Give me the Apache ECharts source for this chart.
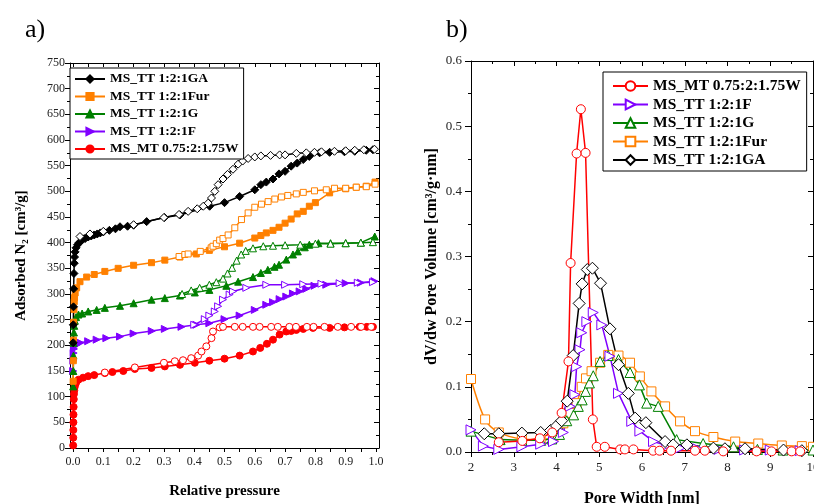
<!DOCTYPE html>
<html>
<head>
<meta charset="utf-8">
<script src="https://cdn.jsdelivr.net/npm/echarts@6/dist/echarts.min.js"></script>
<style>
  html, body { margin: 0; padding: 0; background: #fff; }
  #chart { width: 814px; height: 504px; }
</style>
</head>
<body>
<div id="chart"></div>
<script>
// ---- a) N2 isotherms: [relative pressure, adsorbed volume] ----
const gaAds = [[0.0005,205],[0.001,240],[0.0015,275],[0.002,310],[0.003,340],[0.004,360],[0.005,372],[0.007,382],[0.01,390],[0.015,396],[0.02,400],[0.03,405],[0.04,408],[0.05,411],[0.06,413],[0.07,415],[0.08,417],[0.09,419],[0.1,421],[0.12,424],[0.14,427],[0.155,431],[0.18,432],[0.2,434],[0.243,441],[0.302,449],[0.353,454],[0.451,471],[0.5,478],[0.55,490],[0.6,503],[0.62,513],[0.638,518],[0.66,524],[0.68,534],[0.7,539],[0.72,549],[0.74,555],[0.76,562],[0.78,568],[0.814,575],[0.847,576],[0.896,577],[0.93,578],[0.968,580],[0.99,581]];
const gaDes = [[0.023,412],[0.056,417],[0.1,422],[0.2,435],[0.3,449],[0.35,455],[0.38,461],[0.41,466],[0.43,471],[0.446,477],[0.457,487],[0.468,500],[0.479,513],[0.495,524],[0.51,533],[0.528,543],[0.545,553],[0.56,559],[0.578,564],[0.6,567],[0.62,569],[0.652,570],[0.682,571],[0.7,571],[0.737,574],[0.77,575],[0.797,576],[0.82,577],[0.863,578],[0.9,579],[0.93,580],[0.96,581],[0.995,582]];
const furAds = [[0.0005,130],[0.001,170],[0.0015,210],[0.002,245],[0.003,270],[0.004,285],[0.005,293],[0.007,302],[0.012,312],[0.023,324],[0.045,333],[0.07,338],[0.105,344],[0.149,350],[0.2,356],[0.259,361],[0.303,366],[0.353,372],[0.407,378],[0.45,385],[0.5,392],[0.55,399],[0.6,409],[0.62,414],[0.638,419],[0.66,424],[0.68,430],[0.7,438],[0.72,446],[0.74,456],[0.76,461],[0.78,471],[0.8,478],[0.847,497],[0.9,505],[0.935,508],[0.968,510],[0.997,518]];
const furDes = [[0.35,373],[0.369,377],[0.38,378],[0.42,383],[0.456,390],[0.462,393],[0.473,398],[0.484,405],[0.495,408],[0.512,415],[0.534,429],[0.556,445],[0.578,458],[0.6,469],[0.622,475],[0.644,480],[0.666,485],[0.688,489],[0.709,492],[0.737,495],[0.76,498],[0.797,501],[0.836,503],[0.863,506],[0.9,506],[0.935,508],[0.968,509],[0.997,514]];
const gAds = [[0.0005,120],[0.001,150],[0.0015,180],[0.002,205],[0.003,225],[0.004,238],[0.006,248],[0.01,255],[0.018,260],[0.03,262],[0.05,266],[0.078,269],[0.105,273],[0.155,277],[0.2,282],[0.259,289],[0.303,292],[0.353,297],[0.402,303],[0.45,308],[0.506,316],[0.545,324],[0.594,333],[0.62,341],[0.643,347],[0.665,353],[0.68,357],[0.704,367],[0.726,377],[0.742,383],[0.765,391],[0.78,396],[0.81,399],[0.85,399],[0.9,399],[0.95,400],[0.996,412]];
const gDes = [[0.36,300],[0.39,307],[0.418,312],[0.45,318],[0.473,323],[0.495,330],[0.51,340],[0.525,351],[0.54,365],[0.555,377],[0.57,384],[0.594,389],[0.628,393],[0.66,394],[0.7,395],[0.75,396],[0.8,398],[0.85,398],[0.9,399],[0.95,400],[0.99,401]];
const fAds = [[0.0005,150],[0.001,170],[0.002,185],[0.003,193],[0.005,198],[0.012,201],[0.025,205],[0.05,208],[0.078,211],[0.11,214],[0.155,217],[0.2,223],[0.26,228],[0.303,232],[0.358,236],[0.407,240],[0.45,243],[0.5,251],[0.55,258],[0.6,269],[0.638,279],[0.66,284],[0.682,290],[0.704,295],[0.726,301],[0.748,305],[0.77,310],[0.797,316],[0.836,318],[0.9,321],[0.95,322],[0.995,325]];
const fDes = [[0.4,240],[0.435,251],[0.45,258],[0.468,266],[0.479,276],[0.495,289],[0.517,299],[0.528,305],[0.572,312],[0.638,318],[0.7,318],[0.76,319],[0.82,320],[0.88,321],[0.94,322],[0.99,323]];
const wAds = [[0.0005,5],[0.0008,20],[0.001,35],[0.0012,50],[0.0015,65],[0.002,80],[0.0025,95],[0.003,105],[0.004,112],[0.005,118],[0.007,123],[0.01,127],[0.018,133],[0.033,137],[0.05,140],[0.07,142],[0.105,146],[0.13,148],[0.166,150],[0.204,154],[0.259,156],[0.303,159],[0.353,162],[0.402,166],[0.45,170],[0.5,174],[0.55,180],[0.594,188],[0.618,195],[0.64,203],[0.66,211],[0.682,221],[0.704,227],[0.72,228],[0.737,230],[0.76,232],[0.792,234],[0.847,234],[0.896,235],[0.946,236],[0.97,236],[0.99,236]];
const wDes = [[0.105,147],[0.204,157],[0.3,166],[0.336,169],[0.363,171],[0.39,175],[0.413,180],[0.424,188],[0.44,198],[0.457,214],[0.462,227],[0.484,235],[0.495,236],[0.534,236],[0.56,236],[0.594,236],[0.616,236],[0.654,236],[0.676,236],[0.714,236],[0.736,236],[0.772,236],[0.794,236],[0.83,236],[0.874,236],[0.918,236],[0.951,236],[0.984,236]];

// ---- b) pore size distribution: [pore width nm, dV/dw] ----
const wPsd = [[2.65,0.015],[3.2,0.017],[3.61,0.021],[3.9,0.03],[4.12,0.06],[4.28,0.139],[4.33,0.29],[4.47,0.458],[4.57,0.526],[4.68,0.459],[4.85,0.05],[4.94,0.008],[5.13,0.008],[5.49,0.004],[5.6,0.004],[5.8,0.004],[6.26,0.002],[6.41,0.002],[6.68,0.002],[7.24,0.002],[7.47,0.002],[7.9,0.001],[8.68,0.001],[9.03,0.001],[9.5,0.001],[9.7,0.001]];
const fPsd = [[2.0,0.034],[2.29,0.009],[2.65,0.004],[3.19,0.008],[3.63,0.012],[3.93,0.016],[4.16,0.03],[4.32,0.07],[4.43,0.088],[4.47,0.131],[4.55,0.157],[4.59,0.183],[4.71,0.2],[4.86,0.214],[5.06,0.195],[5.25,0.147],[5.45,0.09],[5.76,0.047],[5.95,0.032],[6.27,0.016],[6.58,0.01],[6.89,0.006],[7.3,0.005],[7.8,0.004],[8.4,0.003],[9.0,0.003],[9.7,0.002]];
const gPsd = [[2.0,0.032],[2.68,0.019],[3.19,0.018],[3.63,0.018],[3.89,0.02],[4.07,0.027],[4.24,0.048],[4.4,0.057],[4.51,0.07],[4.6,0.08],[4.68,0.093],[4.77,0.106],[4.86,0.117],[5.02,0.139],[5.21,0.148],[5.45,0.142],[5.72,0.122],[5.94,0.103],[6.11,0.075],[6.38,0.07],[6.81,0.019],[7.43,0.013],[8.14,0.008],[8.7,0.004],[9.3,0.003],[10.0,0.003]];
const furPsd = [[2.0,0.112],[2.33,0.05],[2.65,0.03],[3.19,0.02],[3.63,0.019],[3.93,0.024],[4.16,0.044],[4.32,0.06],[4.47,0.075],[4.59,0.1],[4.69,0.113],[4.82,0.124],[5.02,0.137],[5.21,0.149],[5.45,0.148],[5.72,0.137],[5.95,0.116],[6.22,0.093],[6.54,0.07],[6.89,0.047],[7.24,0.032],[7.67,0.023],[8.18,0.016],[8.72,0.013],[9.27,0.01],[9.74,0.009],[10.0,0.008]];
const gaPsd = [[2.31,0.028],[2.65,0.028],[3.19,0.029],[3.63,0.03],[3.86,0.033],[4.0,0.04],[4.12,0.048],[4.25,0.078],[4.39,0.148],[4.53,0.228],[4.6,0.258],[4.72,0.28],[4.84,0.282],[5.03,0.259],[5.25,0.189],[5.45,0.134],[5.68,0.09],[5.84,0.052],[6.09,0.045],[6.54,0.016],[6.73,0.011],[7.05,0.011],[7.67,0.006],[7.94,0.005],[8.41,0.005],[9.31,0.003],[9.74,0.002]];

// tick positions of the isotherm pressure axis (labels every 0.1, ticks every 0.05)
const pLabels = [0, 0.1, 0.2, 0.3, 0.4, 0.5, 0.6, 0.7, 0.8, 0.9, 1.0];
const pTicks = [0, 0.05, 0.1, 0.15, 0.2, 0.25, 0.3, 0.35, 0.4, 0.45, 0.5, 0.55, 0.6, 0.65, 0.7, 0.75, 0.8, 0.85, 0.9, 0.95, 1.0];

const legendA = ['MS_TT 1:2:1GA', 'MS_TT 1:2:1Fur', 'MS_TT 1:2:1G', 'MS_TT 1:2:1F', 'MS_MT 0.75:2:1.75W'];
const legendB = ['MS_MT 0.75:2:1.75W', 'MS_TT 1:2:1F', 'MS_TT 1:2:1G', 'MS_TT 1:2:1Fur', 'MS_TT 1:2:1GA'];
const PSD = ' (PSD)';

const C = { ga: '#000000', fur: '#ff8000', g: '#008000', f: '#8000ff', w: '#ff0000' };
const FONT = 'Liberation Serif';

// filled marker, or open (white) marker when hollow is true
function lineSeries(name, data, color, symbol, rotate, size, hollow, axis) {
  return {
    name: name, type: 'line', xAxisIndex: axis, yAxisIndex: axis, data: data,
    symbol: symbol, symbolSize: size, symbolRotate: rotate,
    lineStyle: { color: color, width: 1.5 },
    itemStyle: { color: hollow ? '#fff' : color, borderColor: color, borderWidth: 1 }
  };
}

function axisBase(extra) {
  return Object.assign({
    type: 'value',
    axisLine: { show: true, onZero: false, lineStyle: { color: '#000', width: 1 } },
    splitLine: { show: false },
    axisLabel: { fontFamily: FONT, fontSize: 12, color: '#222' },
    nameTextStyle: { fontFamily: FONT, fontWeight: 'bold', fontSize: 15, color: '#000' }
  }, extra);
}
function mirror(extra) {
  return axisBase(Object.assign({
    axisLabel: { show: false },
    axisTick: { show: true, inside: true, length: 5, lineStyle: { color: '#000' } },
    minorTick: { show: true, splitNumber: 2, length: 3, lineStyle: { color: '#000' } }
  }, extra));
}
const outTick = { show: true, inside: false, length: 5, lineStyle: { color: '#000' } };
const outMinor = { show: true, splitNumber: 2, length: 3, lineStyle: { color: '#000' } };

const chart = echarts.init(document.getElementById('chart'));
chart.setOption({
  backgroundColor: '#fff',
  animation: false,
  title: [
    { text: 'a)', left: 20, top: 12, textStyle: { fontFamily: FONT, fontSize: 26, fontWeight: 'normal', color: '#000' } },
    { text: 'b)', left: 441, top: 12, textStyle: { fontFamily: FONT, fontSize: 26, fontWeight: 'normal', color: '#000' } }
  ],
  grid: [
    { left: 70, top: 63, width: 309, height: 385, outerBoundsMode: 'none', containLabel: false },
    { left: 471, top: 61, width: 342, height: 391, outerBoundsMode: 'none', containLabel: false }
  ],
  xAxis: [
    axisBase({ gridIndex: 0, position: 'bottom', min: -0.01, max: 1.01,
      axisTick: { show: true, inside: false, length: 4, customValues: pTicks, lineStyle: { color: '#000' } },
      axisLabel: { fontFamily: FONT, fontSize: 12, color: '#222', margin: 8, customValues: pLabels, formatter: v => v.toFixed(1) },
      name: 'Relative pressure', nameLocation: 'middle', nameGap: 36 }),
    axisBase({ gridIndex: 0, position: 'top', min: -0.01, max: 1.01,
      axisLabel: { show: false, customValues: pLabels },
      axisTick: { show: true, inside: true, length: 4, customValues: pTicks, lineStyle: { color: '#000' } } }),
    axisBase({ gridIndex: 1, position: 'bottom', min: 2, max: 10, interval: 1,
      axisTick: outTick, minorTick: outMinor,
      axisLabel: { fontFamily: FONT, fontSize: 13, color: '#222', margin: 9 },
      name: 'Pore Width [nm]', nameLocation: 'middle', nameGap: 39, nameTextStyle: { fontFamily: FONT, fontWeight: 'bold', fontSize: 16, color: '#000' } }),
    mirror({ gridIndex: 1, position: 'top', min: 2, max: 10, interval: 1 })
  ],
  yAxis: [
    axisBase({ gridIndex: 0, position: 'left', min: 0, max: 750, interval: 50,
      axisTick: outTick, minorTick: outMinor,
      axisLabel: { fontFamily: FONT, fontSize: 12, color: '#222', margin: 5 },
      name: 'Adsorbed N\u2082 [cm\u00b3/g]', nameLocation: 'middle', nameGap: 41, nameRotate: 90 }),
    mirror({ gridIndex: 0, position: 'right', min: 0, max: 750, interval: 50 }),
    axisBase({ gridIndex: 1, position: 'left', min: 0, max: 0.6, interval: 0.1,
      axisTick: { show: true, inside: false, length: 6, lineStyle: { color: '#000' } }, minorTick: outMinor,
      axisLabel: { fontFamily: FONT, fontSize: 13, color: '#222', margin: 9, formatter: v => v.toFixed(1) },
      name: 'dV/dw Pore Volume [cm\u00b3/g\u00b7nm]', nameLocation: 'middle', nameGap: 31, nameRotate: 90,
      nameTextStyle: { fontFamily: FONT, fontWeight: 'bold', fontSize: 16, color: '#000' } }),
    mirror({ gridIndex: 1, position: 'right', min: 0, max: 0.6, interval: 0.1 })
  ],
  legend: [
    { left: 70, top: 68, orient: 'vertical', data: legendA, selectedMode: false,
      itemWidth: 30, itemHeight: 9, itemGap: 3.5, padding: [4, 5, 3, 4],
      borderColor: '#000', borderWidth: 1, backgroundColor: '#fff',
      textStyle: { fontFamily: FONT, fontWeight: 'bold', fontSize: 13.5, color: '#000' } },
    { left: 603, top: 72, orient: 'vertical', data: legendB.map(n => n + PSD), selectedMode: false,
      formatter: n => n.replace(PSD, ''),
      itemWidth: 35, itemHeight: 12, itemGap: 2.5, padding: [6, 6, 3, 9],
      borderColor: '#000', borderWidth: 1, backgroundColor: '#fff',
      textStyle: { fontFamily: FONT, fontWeight: 'bold', fontSize: 15.5, color: '#000' } }
  ],
  series: [
    lineSeries('MS_MT 0.75:2:1.75W', wAds, C.w, 'circle', 0, 7, false, 0),
    lineSeries('W des', wDes, C.w, 'circle', 0, 7, true, 0),
    lineSeries('MS_TT 1:2:1F', fAds, C.f, 'triangle', -90, 7, false, 0),
    lineSeries('F des', fDes, C.f, 'triangle', -90, 7, true, 0),
    lineSeries('MS_TT 1:2:1G', gAds, C.g, 'triangle', 0, 7, false, 0),
    lineSeries('G des', gDes, C.g, 'triangle', 0, 7, true, 0),
    lineSeries('MS_TT 1:2:1Fur', furAds, C.fur, 'rect', 0, 6, false, 0),
    lineSeries('Fur des', furDes, C.fur, 'rect', 0, 6, true, 0),
    lineSeries('MS_TT 1:2:1GA', gaAds, C.ga, 'diamond', 0, 8, false, 0),
    lineSeries('GA des', gaDes, C.ga, 'diamond', 0, 8, true, 0),
    Object.assign(lineSeries('MS_TT 1:2:1Fur' + PSD, furPsd, C.fur, 'rect', 0, 9, true, 2), { smooth: 0.3 }),
    lineSeries('MS_TT 1:2:1G' + PSD, gPsd, C.g, 'triangle', 0, 10, true, 2),
    lineSeries('MS_TT 1:2:1F' + PSD, fPsd, C.f, 'triangle', -90, 10, true, 2),
    lineSeries('MS_TT 1:2:1GA' + PSD, gaPsd, C.ga, 'diamond', 0, 12, true, 2),
    lineSeries('MS_MT 0.75:2:1.75W' + PSD, wPsd, C.w, 'circle', 0, 9, true, 2)
  ]
});
</script>
</body>
</html>
